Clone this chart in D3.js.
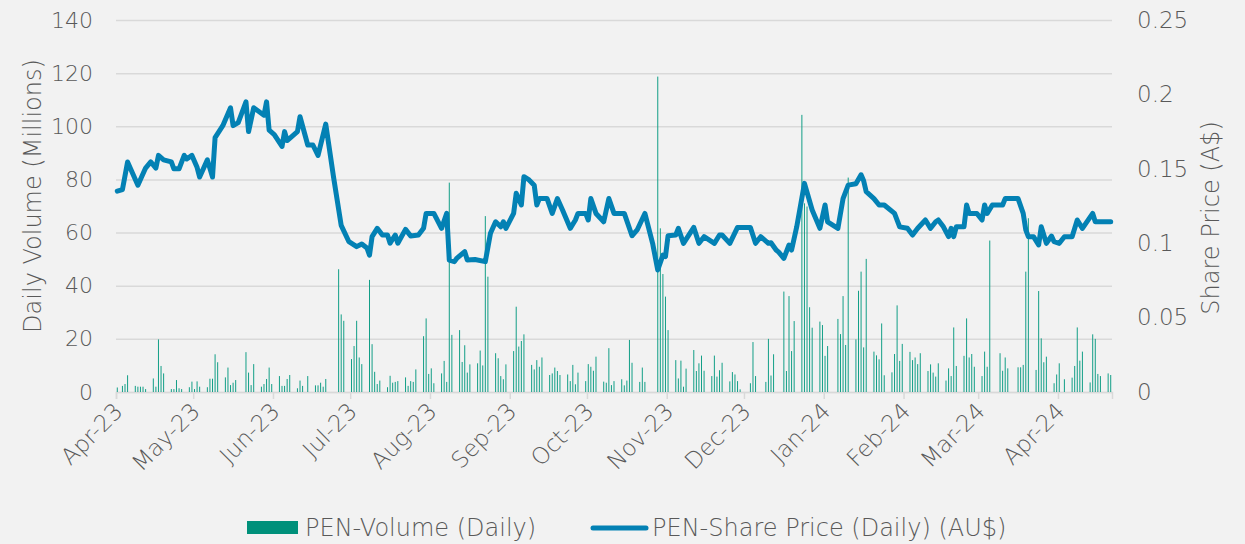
<!DOCTYPE html>
<html><head><meta charset="utf-8">
<script src="https://cdn.jsdelivr.net/npm/d3@7"></script>
<style>
body{margin:0;background:#F2F2F2;}
text{font-family:"DejaVu Sans",sans-serif;font-weight:200;fill:#595959;}
</style>
</head><body>
<svg id="chart" width="1245" height="544"></svg>
<script>
const volumeSeries = [
["2023-04-01",1.7],["2023-04-03",2.3],["2023-04-04",3],["2023-04-05",6.3],
["2023-04-08",2.3],["2023-04-09",2],["2023-04-10",2],["2023-04-11",2],["2023-04-12",1.1],
["2023-04-15",5.1],["2023-04-16",2],["2023-04-17",19.8],["2023-04-18",9.8],["2023-04-19",7],
["2023-04-22",1.1],["2023-04-23",1.1],["2023-04-24",4.5],["2023-04-25",1.4],["2023-04-26",1.1],
["2023-04-29",1.8],["2023-04-30",3.9],["2023-05-01",1.1],["2023-05-02",4],["2023-05-03",2],
["2023-05-06",1.8],["2023-05-07",5],["2023-05-08",5],["2023-05-09",14.2],["2023-05-10",11.2],
["2023-05-13",5.5],["2023-05-14",9.2],["2023-05-15",2.6],["2023-05-16",3.5],["2023-05-17",4.5],
["2023-05-21",15],["2023-05-22",7.3],["2023-05-23",2.6],["2023-05-24",10.5],
["2023-05-27",2],["2023-05-28",3],["2023-05-29",4.9],["2023-05-30",9.2],["2023-05-31",3],
["2023-06-03",6],["2023-06-04",2.3],["2023-06-05",2.3],["2023-06-06",4.9],["2023-06-07",6.4],
["2023-06-10",1.4],["2023-06-11",4.3],["2023-06-12",2.3],["2023-06-14",6],
["2023-06-17",2.5],["2023-06-18",2.5],["2023-06-19",3.5],["2023-06-20",2],["2023-06-21",4.9],
["2023-06-26",46.2],["2023-06-27",29.2],["2023-06-28",26.8],
["2023-07-01",12.4],["2023-07-02",17.3],["2023-07-03",26.8],["2023-07-04",13],["2023-07-05",10.5],
["2023-07-08",42.2],["2023-07-09",18],["2023-07-10",7.6],["2023-07-11",3],["2023-07-12",4.3],
["2023-07-15",1.8],["2023-07-16",6.1],["2023-07-17",3.5],["2023-07-18",3.8],["2023-07-19",4.1],
["2023-07-22",5.5],["2023-07-23",2.3],["2023-07-24",4.1],["2023-07-25",3.8],["2023-07-26",8.5],
["2023-07-29",21],["2023-07-30",27.7],["2023-07-31",6.8],["2023-08-01",8.9],["2023-08-02",3.3],
["2023-08-05",7],["2023-08-06",11.7],["2023-08-07",3.8],["2023-08-08",78.8],["2023-08-09",21.5],
["2023-08-12",23.3],["2023-08-13",11.3],["2023-08-14",17.6],["2023-08-15",7.3],["2023-08-16",10.4],
["2023-08-19",10.8],["2023-08-20",15.6],["2023-08-21",10],["2023-08-22",66.2],["2023-08-23",43.4],
["2023-08-26",14.6],["2023-08-27",12.7],["2023-08-28",6],["2023-08-29",4.8],["2023-08-30",10.4],
["2023-09-02",15.4],["2023-09-03",32.1],["2023-09-04",17.1],["2023-09-05",19.2],["2023-09-06",21.7],
["2023-09-09",10.2],["2023-09-10",8.5],["2023-09-11",12],["2023-09-12",9.5],["2023-09-13",13],
["2023-09-16",6.4],["2023-09-17",7],["2023-09-18",9.2],["2023-09-19",7.9],["2023-09-20",6.4],
["2023-09-23",6.6],["2023-09-24",4.1],["2023-09-25",10.2],["2023-09-26",2.9],["2023-09-27",7.3],
["2023-09-30",4.1],["2023-10-01",10.5],["2023-10-02",9.5],["2023-10-03",8],["2023-10-04",13.3],
["2023-10-07",3.9],["2023-10-08",3.5],["2023-10-09",16.5],["2023-10-10",2.6],["2023-10-11",4.1],
["2023-10-14",4.8],["2023-10-15",2.5],["2023-10-16",4.3],["2023-10-17",19.6],["2023-10-18",11],
["2023-10-21",3.8],["2023-10-22",9.2],["2023-10-23",3.8],
["2023-10-28",118.7],["2023-10-29",61.6],["2023-10-30",44.4],["2023-10-31",35.9],["2023-11-01",23.3],
["2023-11-04",12],["2023-11-05",5.1],["2023-11-06",11.8],["2023-11-07",2],["2023-11-08",8.8],
["2023-11-11",15.8],["2023-11-12",7.9],["2023-11-13",10.8],["2023-11-14",13.7],["2023-11-15",8],
["2023-11-18",6],["2023-11-19",13.7],["2023-11-20",5.8],["2023-11-21",8.2],["2023-11-22",11],
["2023-11-25",4],["2023-11-26",7.5],["2023-11-27",6.6],["2023-11-28",4.1],["2023-11-29",1],
["2023-12-03",3.3],["2023-12-04",18.8],["2023-12-05",6],
["2023-12-09",3.8],["2023-12-10",20],["2023-12-11",6.2],["2023-12-12",14.2],
["2023-12-16",37.8],["2023-12-17",7.9],["2023-12-18",36.1],["2023-12-19",15.4],["2023-12-20",26.7],
["2023-12-23",104.3],["2023-12-24",71],["2023-12-25",69.8],["2023-12-26",31.9],["2023-12-27",24.2],
["2023-12-30",26.5],["2023-12-31",25.2],["2024-01-01",13.6],["2024-01-02",17.3],
["2024-01-06",27.5],["2024-01-07",21.8],["2024-01-08",36.1],["2024-01-09",17.7],["2024-01-10",80.7],
["2024-01-13",19.8],["2024-01-14",38.1],["2024-01-15",45.3],["2024-01-16",16.8],["2024-01-17",50.1],
["2024-01-20",15.2],["2024-01-21",13.8],["2024-01-22",12.3],["2024-01-23",25.8],["2024-01-24",6.3],
["2024-01-27",7.4],["2024-01-28",14.3],["2024-01-29",32.6],["2024-01-30",11.7],["2024-01-31",18.1],
["2024-02-03",15.1],["2024-02-04",12],["2024-02-05",13],["2024-02-06",10.5],["2024-02-07",14.6],
["2024-02-10",7.9],["2024-02-11",10.4],["2024-02-12",7.3],["2024-02-13",5.8],["2024-02-14",10.8],
["2024-02-17",4.3],["2024-02-18",8.9],["2024-02-19",6],["2024-02-20",24.3],["2024-02-21",9.8],
["2024-02-24",13.6],["2024-02-25",27.7],["2024-02-26",13],["2024-02-27",14.3],["2024-02-28",9.5],
["2024-03-02",6],["2024-03-03",15.2],["2024-03-04",9.5],["2024-03-05",57],
["2024-03-09",14.6],["2024-03-10",8],["2024-03-11",13],["2024-03-12",8.9],
["2024-03-16",9.3],["2024-03-17",9.3],["2024-03-18",10.2],["2024-03-19",45.3],["2024-03-20",65.4],
["2024-03-23",8.3],["2024-03-24",38],["2024-03-25",20.2],["2024-03-26",11.2],["2024-03-27",13.3],
["2024-03-30",3.3],["2024-03-31",6.6],["2024-04-01",10.8],["2024-04-03",4.8],
["2024-04-06",5.4],["2024-04-07",9.8],["2024-04-08",24.3],["2024-04-09",11.8],["2024-04-10",15.2],
["2024-04-13",3.6],["2024-04-14",21.7],["2024-04-15",20],["2024-04-16",6.8],["2024-04-17",6],
["2024-04-20",7],["2024-04-21",6.4]
];

const priceSeries = [
["2023-04-01",0.135],["2023-04-03",0.136],["2023-04-05",0.1546],["2023-04-09",0.139],["2023-04-12",0.1505],
["2023-04-14",0.1546],["2023-04-16",0.1505],["2023-04-17",0.159],["2023-04-19",0.156],["2023-04-22",0.1546],
["2023-04-23",0.150],["2023-04-25",0.150],["2023-04-27",0.159],["2023-04-28",0.1566],["2023-04-30",0.159],
["2023-05-02",0.151],["2023-05-03",0.1445],["2023-05-06",0.156],["2023-05-08",0.1445],["2023-05-09",0.171],
["2023-05-12",0.179],["2023-05-15",0.191],["2023-05-16",0.179],["2023-05-18",0.181],["2023-05-21",0.195],
["2023-05-22",0.175],["2023-05-24",0.191],["2023-05-28",0.186],["2023-05-29",0.195],["2023-05-30",0.176],
["2023-06-01",0.173],["2023-06-04",0.165],["2023-06-05",0.175],["2023-06-06",0.169],["2023-06-10",0.175],
["2023-06-11",0.185],["2023-06-14",0.166],["2023-06-16",0.166],["2023-06-18",0.159],["2023-06-21",0.180],
["2023-06-24",0.1447],["2023-06-27",0.112],["2023-06-30",0.101],["2023-07-03",0.0977],["2023-07-05",0.0995],
["2023-07-07",0.0968],["2023-07-08",0.092],["2023-07-09",0.1044],["2023-07-11",0.110],["2023-07-13",0.1055],
["2023-07-15",0.1055],["2023-07-16",0.100],["2023-07-18",0.1055],["2023-07-19",0.100],["2023-07-22",0.1093],
["2023-07-24",0.1048],["2023-07-27",0.1055],["2023-07-29",0.110],["2023-07-30",0.120],["2023-08-01",0.120],
["2023-08-02",0.120],["2023-08-05",0.110],["2023-08-07",0.120],["2023-08-08",0.0887],["2023-08-10",0.0876],
["2023-08-11",0.090],["2023-08-14",0.0943],["2023-08-15",0.0887],["2023-08-18",0.089],["2023-08-22",0.0876],
["2023-08-24",0.1067],["2023-08-26",0.1144],["2023-08-28",0.111],["2023-08-29",0.1144],["2023-08-30",0.110],
["2023-09-02",0.120],["2023-09-03",0.1335],["2023-09-05",0.1257],["2023-09-06",0.1447],["2023-09-08",0.1425],
["2023-09-10",0.139],["2023-09-11",0.1257],["2023-09-12",0.130],["2023-09-15",0.130],["2023-09-17",0.120],
["2023-09-19",0.130],["2023-09-21",0.1223],["2023-09-24",0.110],["2023-09-26",0.1156],["2023-09-27",0.120],
["2023-09-30",0.120],["2023-10-01",0.1156],["2023-10-02",0.130],["2023-10-04",0.120],["2023-10-07",0.1144],
["2023-10-09",0.130],["2023-10-11",0.120],["2023-10-15",0.120],["2023-10-18",0.105],["2023-10-20",0.1089],
["2023-10-23",0.120],["2023-10-26",0.0999],["2023-10-28",0.082],["2023-10-30",0.092],["2023-10-31",0.091],
["2023-11-01",0.105],["2023-11-04",0.1055],["2023-11-05",0.110],["2023-11-07",0.0999],["2023-11-11",0.1106],
["2023-11-13",0.0999],["2023-11-15",0.1044],["2023-11-19",0.0999],["2023-11-21",0.1055],["2023-11-22",0.1055],
["2023-11-25",0.0999],["2023-11-28",0.1106],["2023-12-03",0.1106],["2023-12-05",0.0999],["2023-12-07",0.1044],
["2023-12-10",0.0999],["2023-12-11",0.1003],["2023-12-13",0.0954],["2023-12-14",0.094],["2023-12-16",0.0898],
["2023-12-18",0.0988],["2023-12-19",0.0954],["2023-12-21",0.111],["2023-12-24",0.1402],["2023-12-27",0.1223],
["2023-12-30",0.110],["2024-01-01",0.1257],["2024-01-02",0.1144],["2024-01-06",0.110],["2024-01-08",0.130],
["2024-01-10",0.139],["2024-01-13",0.140],["2024-01-15",0.146],["2024-01-16",0.142],["2024-01-17",0.1346],
["2024-01-20",0.130],["2024-01-22",0.1257],["2024-01-24",0.1257],["2024-01-28",0.120],["2024-01-30",0.111],
["2024-02-02",0.110],["2024-02-04",0.1055],["2024-02-06",0.110],["2024-02-09",0.1156],["2024-02-11",0.110],
["2024-02-13",0.1144],["2024-02-14",0.1156],["2024-02-16",0.111],["2024-02-18",0.1044],["2024-02-19",0.110],
["2024-02-20",0.1044],["2024-02-21",0.111],["2024-02-24",0.111],["2024-02-25",0.1257],["2024-02-26",0.120],
["2024-02-29",0.120],["2024-03-02",0.1156],["2024-03-03",0.1257],["2024-03-04",0.120],["2024-03-06",0.1257],
["2024-03-10",0.1257],["2024-03-11",0.130],["2024-03-16",0.130],["2024-03-18",0.120],["2024-03-19",0.1089],
["2024-03-20",0.1044],["2024-03-22",0.1044],["2024-03-24",0.0988],["2024-03-25",0.111],["2024-03-27",0.0999],
["2024-03-29",0.1048],["2024-03-30",0.101],["2024-04-01",0.0999],["2024-04-03",0.1044],["2024-04-06",0.1044],
["2024-04-08",0.1156],["2024-04-10",0.110],["2024-04-14",0.120],["2024-04-15",0.1144],["2024-04-21",0.1144]
];

const volumeTicks = [0,20,40,60,80,100,120,140];
const priceTicks = [0,0.05,0.1,0.15,0.2,0.25];
const priceTickLabels = ["0","0.05","0.1","0.15","0.2","0.25"];
const monthTicks = ["2023-04-01","2023-05-01","2023-06-01","2023-07-01","2023-08-01","2023-09-01","2023-10-01","2023-11-01","2023-12-01","2024-01-01","2024-02-01","2024-03-01","2024-04-01"];
const monthLabels = ["Apr-23","May-23","Jun-23","Jul-23","Aug-23","Sep-23","Oct-23","Nov-23","Dec-23","Jan-24","Feb-24","Mar-24","Apr-24"];
const seriesNames = ["PEN-Volume (Daily)","PEN-Share Price (Daily) (AU$)"];

const parse = d3.utcParse("%Y-%m-%d");
const L = 116, R = 1112, T = 20, B = 392;
const svg = d3.select("#chart");
const x = d3.scaleUtc().domain([parse("2023-04-01"), parse("2024-04-22")]).range([L, R]);
const yL = d3.scaleLinear().domain([0,140]).range([B,T]);
const yR = d3.scaleLinear().domain([0,0.25]).range([B,T]);
const dayW = x(parse("2023-04-02")) - x(parse("2023-04-01"));
const cx = s => x(parse(s)) + dayW/2;

const gridC = "#D9D9D9", textC = "#595959";
const barC = "#139F87", lineC = "#0381B4";

// left axis + gridlines
const gL = svg.append("g").attr("transform",`translate(${L},0)`)
  .call(d3.axisLeft(yL).tickValues(volumeTicks).tickSize(-(R-L)).tickPadding(23));
gL.select(".domain").remove();
gL.selectAll(".tick line").attr("stroke",gridC).attr("stroke-width",1.5);
gL.selectAll(".tick text").style("font-size","22px").attr("fill",textC);

// right axis
const gR = svg.append("g").attr("transform",`translate(${R},0)`)
  .call(d3.axisRight(yR).tickValues(priceTicks).tickFormat((d,i)=>priceTickLabels[i]).tickSize(0).tickPadding(25));
gR.select(".domain").remove();
gR.selectAll(".tick text").style("font-size","23px").attr("fill",textC);

// x axis
const gX = svg.append("g").attr("transform",`translate(0,${B})`)
  .call(d3.axisBottom(x).tickValues(monthTicks.map(parse)).tickFormat((d,i)=>monthLabels[i]).tickSize(7));
gX.select(".domain").attr("stroke",gridC).attr("stroke-width",1.5);
gX.selectAll(".tick line").attr("stroke",gridC).attr("stroke-width",1.5);
gX.selectAll(".tick text").style("font-size","23px").attr("fill",textC)
  .attr("text-anchor","end").attr("x",0).attr("y",0).attr("dy","0.35em")
  .attr("transform","translate(2,15) rotate(-45)");

// bars
svg.append("g").selectAll("rect").data(volumeSeries).join("rect")
  .attr("x", d => cx(d[0]) - 0.5).attr("width", 1)
  .attr("y", d => yL(d[1])).attr("height", d => B - yL(d[1]))
  .attr("fill", barC);

// price line
const line = d3.line().x(d => cx(d[0])).y(d => yR(d[1]));
svg.append("path").datum(priceSeries).attr("d", line)
  .attr("fill","none").attr("stroke",lineC).attr("stroke-width",5)
  .attr("stroke-linejoin","round").attr("stroke-linecap","round");

// axis titles
svg.append("text").attr("transform","translate(41,196) rotate(-90)").attr("text-anchor","middle")
  .style("font-size","24px").text("Daily Volume (Millions)");
svg.append("text").attr("transform","translate(1219,218) rotate(-90)").attr("text-anchor","middle")
  .style("font-size","24px").text("Share Price (A$)");

// legend
const lg = svg.append("g");
lg.append("rect").attr("x",247).attr("y",521).attr("width",51).attr("height",13).attr("fill","#00907A");
lg.append("text").attr("x",305).attr("y",536).style("font-size","24px").text(seriesNames[0]);
lg.append("line").attr("x1",593).attr("x2",646).attr("y1",528).attr("y2",528)
  .attr("stroke",lineC).attr("stroke-width",5).attr("stroke-linecap","round");
lg.append("text").attr("x",652).attr("y",536).style("font-size","24px").text(seriesNames[1]);
</script>
</body></html>
